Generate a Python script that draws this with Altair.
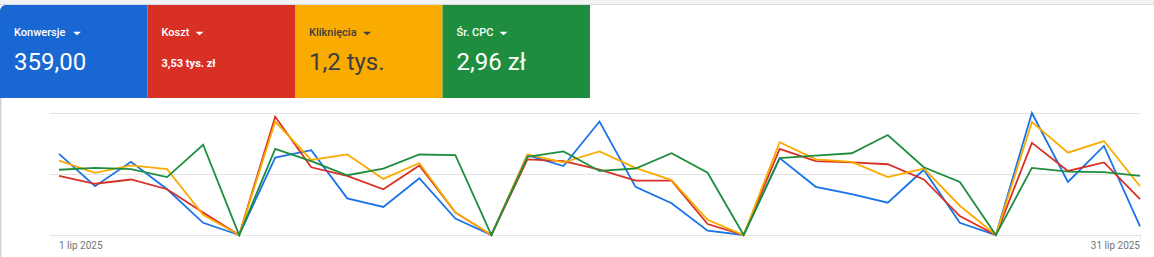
import altair as alt
import pandas as pd

# ---- data ----
days = list(range(1, 32))
konwersje = [1.33, 0.80, 1.20, 0.75, 0.20, 0.00, 1.27, 1.39, 0.60, 0.46, 0.93, 0.27, 0.00, 1.31, 1.13,
             1.86, 0.79, 0.52, 0.07, 0.00, 1.26, 0.79, 0.67, 0.53, 1.07, 0.20, 0.00, 2.00, 0.87, 1.46, 0.14]
koszt = [0.97, 0.84, 0.91, 0.75, 0.37, 0.00, 1.94, 1.11, 0.97, 0.75, 1.14, 0.37, 0.00, 1.24, 1.21,
         1.07, 0.89, 0.89, 0.18, 0.00, 1.41, 1.21, 1.19, 1.16, 0.91, 0.31, 0.00, 1.51, 1.05, 1.19, 0.59]
klikniecia = [1.22, 1.02, 1.14, 1.08, 0.33, 0.00, 1.86, 1.23, 1.32, 0.92, 1.18, 0.37, 0.00, 1.32, 1.19,
              1.37, 1.10, 0.90, 0.25, 0.00, 1.52, 1.24, 1.20, 0.95, 1.09, 0.48, 0.00, 1.85, 1.35, 1.54, 0.80]
sr_cpc = [1.07, 1.10, 1.08, 0.95, 1.48, 0.00, 1.41, 1.21, 0.98, 1.09, 1.32, 1.31, 0.00, 1.28, 1.37,
          1.05, 1.09, 1.34, 1.02, 0.00, 1.26, 1.30, 1.34, 1.64, 1.11, 0.87, 0.00, 1.10, 1.04, 1.03, 0.97]

metric_names = ["Konwersje", "Koszt", "Kliknięcia", "Śr. CPC"]
metric_values = ["359,00", "3,53 tys. zł", "1,2 tys.", "2,96 zł"]
tile_colors = ["#1967d2", "#d93025", "#f9ab00", "#1e8e3e"]
line_colors = ["#1a73e8", "#d93025", "#f9ab00", "#1e8e3e"]
text_colors = ["#ffffff", "#ffffff", "#3c4043", "#ffffff"]
value_sizes = [24, 11, 24, 24]
# dropdown-arrow offset from each tile's left edge (px, decoration)
arrow_offsets = [77, 52, 72, 61]

axis_days = [1, 31]
axis_labels = ["1 lip 2025", "31 lip 2025"]

# ---- tables ----
series = {"Konwersje": konwersje, "Koszt": koszt, "Kliknięcia": klikniecia, "Śr. CPC": sr_cpc}
rows = []
for name, vals in series.items():
    for d, v in zip(days, vals):
        rows.append({"day": d, "metric": name, "value": v})
lines_df = pd.DataFrame(rows)

TILE_W = 147.5
tiles_df = pd.DataFrame({
    "i": list(range(4)),
    "i2": [k + 1 for k in range(4)],
    "label": metric_names,
    "val": metric_values,
    "bg": tile_colors,
    "fg": text_colors,
    "vsize": value_sizes,
    "arrow": [k + off / TILE_W for k, off in zip(range(4), arrow_offsets)],
})
axis_df = pd.DataFrame({"day": axis_days, "label": axis_labels})

W, H = 1091, 122
PL, PT = 49, 113

xscale = alt.Scale(domain=[0.7225, 31], nice=False, zero=False)
tile_x = alt.Scale(domain=[0, 4], range=[-PL, 590 - PL], nice=False, zero=False)

lines = alt.Chart(lines_df).mark_line(strokeWidth=1.8, clip=False).encode(
    x=alt.X("day:Q", scale=xscale, axis=None),
    y=alt.Y("value:Q", scale=alt.Scale(domain=[0, 2], nice=False),
            axis=alt.Axis(values=[0, 1, 2], labels=False, ticks=False, domain=False,
                          title=None, grid=True, gridColor="#e3e3e3", gridWidth=1)),
    color=alt.Color("metric:N", scale=alt.Scale(domain=metric_names, range=line_colors), legend=None),
    order=alt.Order("day:Q"),
)

axis_left = alt.Chart(axis_df[axis_df.day == 1]).mark_text(
    align="left", baseline="alphabetic", font="Roboto", fontSize=10, color="#70757a"
).encode(x=alt.X("day:Q", scale=xscale, axis=None), y=alt.value(136), text="label:N")
axis_right = alt.Chart(axis_df[axis_df.day == 31]).mark_text(
    align="right", baseline="alphabetic", font="Roboto", fontSize=10, color="#70757a"
).encode(x=alt.X("day:Q", scale=xscale, axis=None), y=alt.value(136), text="label:N")

topstrip = alt.Chart(tiles_df.head(1)).mark_rect(color="#f1f3f4").encode(
    x=alt.value(-PL), x2=alt.value(1154 - PL), y=alt.value(-PT), y2=alt.value(-PT + 4))
topline = alt.Chart(tiles_df.head(1)).mark_rule(color="#dadce0", strokeWidth=1).encode(
    x=alt.value(-PL), x2=alt.value(1154 - PL), y=alt.value(-PT + 4.5))
leftborder = alt.Chart(tiles_df.head(1)).mark_rule(color="#d0d3d6", strokeWidth=1.5).encode(
    x=alt.value(-PL + 0.75), y=alt.value(-15), y2=alt.value(144))
rightmark = alt.Chart(tiles_df.head(1)).mark_rule(color="#e8e8e8", strokeWidth=1).encode(
    x=alt.value(W + 0.5), y=alt.value(H - 1), y2=alt.value(H + 5))

tiles_rest = alt.Chart(tiles_df[tiles_df.i > 0]).mark_rect().encode(
    x=alt.X("i:Q", scale=tile_x, axis=None), x2="i2:Q",
    y=alt.value(5 - PT), y2=alt.value(98 - PT),
    color=alt.Color("bg:N", scale=None),
)
tile_first = alt.Chart(tiles_df[tiles_df.i == 0]).mark_rect(cornerRadiusTopLeft=6).encode(
    x=alt.X("i:Q", scale=tile_x, axis=None), x2="i2:Q",
    y=alt.value(5 - PT), y2=alt.value(98 - PT),
    color=alt.Color("bg:N", scale=None),
)
tile_labels = alt.Chart(tiles_df).mark_text(
    align="left", baseline="alphabetic", font="Roboto", fontSize=11, fontWeight=500, dx=14
).encode(
    x=alt.X("i:Q", scale=tile_x, axis=None), y=alt.value(36 - PT),
    text="label:N", color=alt.Color("fg:N", scale=None),
)
arrows = alt.Chart(tiles_df).mark_point(
    shape="M -1 -0.45 L 1 -0.45 L 0 0.45 Z", filled=True, size=64, opacity=1, strokeWidth=0
).encode(
    x=alt.X("arrow:Q", scale=tile_x, axis=None), y=alt.value(33.5 - PT),
    color=alt.Color("fg:N", scale=None),
)
big = tiles_df[tiles_df.vsize > 12]
small = tiles_df[tiles_df.vsize <= 12]
tile_values = alt.Chart(big).mark_text(
    align="left", baseline="alphabetic", font="Roboto", fontSize=24, dx=14
).encode(
    x=alt.X("i:Q", scale=tile_x, axis=None), y=alt.value(69.5 - PT),
    text="val:N", color=alt.Color("fg:N", scale=None),
)
tile_values_small = alt.Chart(small).mark_text(
    align="left", baseline="alphabetic", font="Roboto", fontSize=11, fontWeight="bold", dx=14
).encode(
    x=alt.X("i:Q", scale=tile_x, axis=None), y=alt.value(66.5 - PT),
    text="val:N", color=alt.Color("fg:N", scale=None),
)

chart = alt.layer(
    topstrip, topline, leftborder, rightmark, lines, axis_left, axis_right,
    tiles_rest, tile_first, tile_labels, arrows, tile_values, tile_values_small
).resolve_scale(x="independent", color="independent").properties(
    width=W, height=H,
    background="white",
    autosize=alt.AutoSizeParams(type="none"),
    padding={"left": PL, "top": PT, "right": 1154 - PL - W, "bottom": 257 - PT - H},
).configure_view(strokeWidth=0, stroke="transparent").configure_axis(domain=False)

chart.save("out.html", embed_options={"renderer": "svg", "actions": False})
